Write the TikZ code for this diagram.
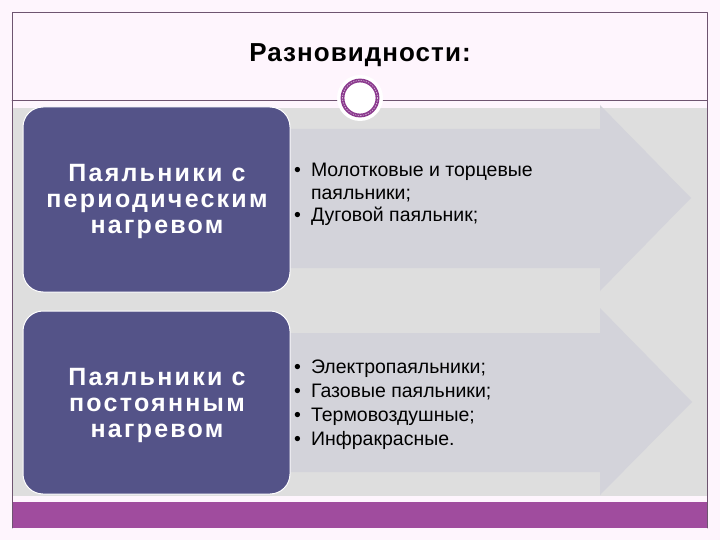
\documentclass[tikz,border=0pt]{standalone}
\usepackage{fontspec}
\setmainfont{Liberation Sans}
\newfontfamily\widebold[LetterSpace=9]{Liberation Sans}
\newfontfamily\titlebold[LetterSpace=4]{Liberation Sans}
\usepackage{xcolor}
\usepackage{tikz}
\usetikzlibrary{calc,positioning}
\definecolor{slideback}{HTML}{FEF5FD}
\definecolor{framecol}{HTML}{6E5470}
\definecolor{bandcol}{HTML}{DEDEDE}
\definecolor{arrowcol}{HTML}{D3D3DA}
\definecolor{boxcol}{HTML}{545388}
\definecolor{barcol}{HTML}{A04C9E}
\definecolor{ringcol}{HTML}{8B3A8E}

\begin{document}
\begin{tikzpicture}[x=1pt,y=-1pt,line cap=round,line join=round,
  kind/.style={draw=white,line width=1pt,fill=boxcol,rounded corners=20pt},
  kindtext/.style={text=white,align=center,inner sep=0pt,font=\widebold\bfseries\fontsize{25}{26}\selectfont},
  itemtext/.style={anchor=base west,inner sep=0pt,text=black}]
\useasboundingbox (0,0) rectangle (720,540);
\fill[slideback] (0,0) rectangle (720,540);
% frame and bands
\fill[bandcol] (12,108) rectangle (707,496);
\fill[barcol] (12,502) rectangle (707,528);
\draw[framecol,line width=0.8pt] (12,528) -- (12,12) -- (707,12) -- (707,528);
\draw[framecol,line width=0.8pt] (12,100) -- (707,100);
\node [anchor=base,font=\titlebold\bfseries\fontsize{26}{28}\selectfont] (title) at (360,62) {Разновидности:};
% ring
\fill[white] (360,98) circle (23);
\draw[ringcol,line width=3.8pt] (360,98) circle (17.5);
\draw[white!75!ringcol,line width=0.6pt,dash pattern=on 1pt off 1.6pt] (360,98) circle (17.5);
%\draw[ringcol] (360,98) circle (20);
% arrows
\fill[arrowcol] (285,129) -- (600,129) -- (600,105) -- (691,198) -- (600,291) -- (600,268) -- (285,268) -- cycle;
\fill[arrowcol] (285,333) -- (600,333) -- (600,308) -- (692,402) -- (600,495) -- (600,472) -- (285,472) -- cycle;
% boxes
\draw[kind] (23,107) rectangle (290,292);
\draw[kind] (23,311) rectangle (290,494);
\node [kindtext] (periodic) at (157,201) {Паяльники с\\периодическим\\нагревом};
\node [kindtext] (constant) at (157,405) {Паяльники с\\постоянным\\нагревом};
% lists
\node [itemtext,font=\fontsize{19.5}{22.5}\selectfont] (listone) at (294,177)
  {\begin{tabular}[t]{@{}l@{\hspace{10pt}}l@{}}
   • & Молотковые и торцевые\\
     & паяльники;\\
   • & Дуговой паяльник;
   \end{tabular}};
\node [itemtext,font=\fontsize{19.5}{24.3}\selectfont] (listtwo) at (294,373)
  {\begin{tabular}[t]{@{}l@{\hspace{10pt}}l@{}}
   • & Электропаяльники;\\
   • & Газовые паяльники;\\
   • & Термовоздушные;\\
   • & Инфракрасные.
   \end{tabular}};
\end{tikzpicture}
\end{document}
